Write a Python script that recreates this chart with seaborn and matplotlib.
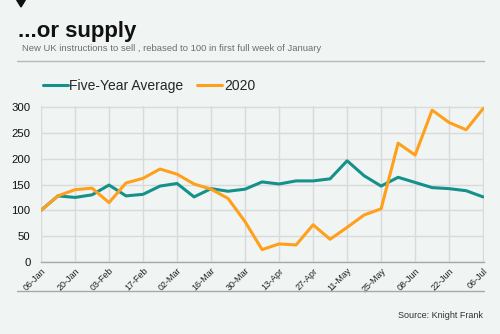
import matplotlib
matplotlib.use("Agg")
import matplotlib.pyplot as plt
import seaborn as sns
import pandas as pd
from matplotlib.patches import Polygon
from matplotlib.lines import Line2D

weeks = list(range(27))
tick_labels = ["06-Jan", "20-Jan", "03-Feb", "17-Feb", "02-Mar", "16-Mar", "30-Mar",
               "13-Apr", "27-Apr", "11-May", "25-May", "08-Jun", "22-Jun", "06-Jul"]
five_year_avg = [100, 128, 125, 130, 149, 128, 131, 147, 152, 126, 142, 137, 141,
                 155, 151, 157, 157, 161, 196, 167, 147, 164, 154, 144, 142, 138, 126]
y2020 = [100, 128, 140, 143, 115, 153, 162, 180, 170, 151, 141, 123, 78,
         24, 35, 33, 72, 44, 67, 91, 103, 230, 207, 294, 270, 256, 297]

bg = "#F0F4F3"
teal = "#14918A"
orange = "#FFA01C"

sns.set_theme(style="white")
plt.rcParams["font.family"] = ["Liberation Sans", "DejaVu Sans"]

df = pd.DataFrame({
    "week": weeks * 2,
    "value": five_year_avg + y2020,
    "series": ["Five-Year Average"] * 27 + ["2020"] * 27,
})

fig = plt.figure(figsize=(5, 3.34), dpi=100, facecolor=bg)
ax = fig.add_axes([0.082, 0.2156, 0.886, 0.467])
ax.set_facecolor(bg)

sns.lineplot(data=df, x="week", y="value", hue="series",
             palette={"Five-Year Average": teal, "2020": orange},
             hue_order=["Five-Year Average", "2020"],
             linewidth=2.2, ax=ax, legend=False)

ax.set_xlim(0, 26.05)
ax.set_ylim(0, 302)
ax.set_yticks(range(0, 301, 50))
ax.set_xticks(range(0, 27, 2))
ax.set_xticklabels(tick_labels, rotation=45, ha="right", rotation_mode="anchor",
                   fontsize=6.5, color="#222222")
ax.tick_params(axis="y", labelsize=8.2, colors="#111111", length=0, pad=7.5)
ax.tick_params(axis="x", length=0, pad=3)
ax.set_xlabel("")
ax.set_ylabel("")
ax.grid(True, color="#DADADA", linewidth=1)
ax.set_axisbelow(True)
for s in ["top", "right", "left"]:
    ax.spines[s].set_visible(False)
ax.spines["bottom"].set_color("#A8A8A8")
ax.spines["bottom"].set_linewidth(1)

# Title, subtitle
fig.text(0.036, 0.905, "...or supply", fontsize=16, fontweight="bold",
         color="#111111", va="center", ha="left")
fig.text(0.043, 0.856, "New UK instructions to sell , rebased to 100 in first full week of January",
         fontsize=6.8, color="#6E6E6E", va="center", ha="left")

# rules
fig.add_artist(Line2D([0.034, 0.968], [1 - 61 / 334] * 2, color="#B8B8B8", linewidth=1))
fig.add_artist(Line2D([0.034, 0.968], [1 - 291 / 334] * 2, color="#A8A8A8", linewidth=1))

# triangle marker
fig.add_artist(Polygon([[16.7 / 500, 1.0], [25.3 / 500, 1.0], [21 / 500, 1 - 7 / 334]],
                       closed=True, transform=fig.transFigure, color="#111111"))

# legend
handles = [Line2D([], [], color=teal, linewidth=2.2), Line2D([], [], color=orange, linewidth=2.2)]
fig.legend(handles, ["Five-Year Average", "2020"], loc="center left",
           bbox_to_anchor=(0.086, 1 - 86 / 334), ncol=2, frameon=False,
           fontsize=10, handlelength=1.8, handletextpad=0.1, columnspacing=1.0,
           borderaxespad=0, borderpad=0)

fig.text(0.966, 1 - 315 / 334, "Source: Knight Frank", fontsize=6.5, color="#333333",
         ha="right", va="center")

fig.savefig("out.png", dpi=100, facecolor=bg)
